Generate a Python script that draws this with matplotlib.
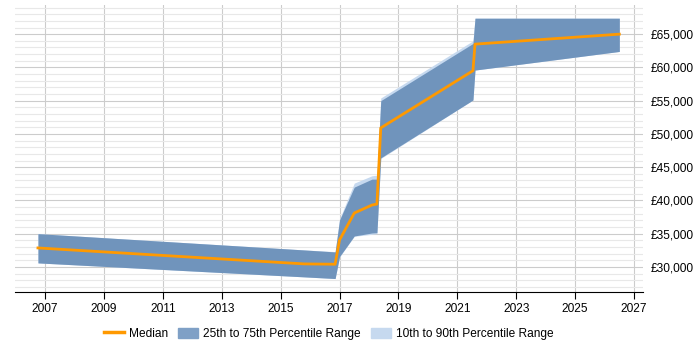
import matplotlib.pyplot as plt
from matplotlib.lines import Line2D
from matplotlib.patches import Patch
from matplotlib.ticker import FuncFormatter, MultipleLocator

plt.rcParams['font.family'] = ['Liberation Sans', 'DejaVu Sans']

# data
years = [2006.76, 2015.8, 2016.85, 2017.0, 2017.5, 2018.1, 2018.27, 2018.4, 2021.53, 2021.6, 2026.5]
median = [32850, 30450, 30400, 34050, 38100, 39300, 39450, 50900, 59500, 63500, 65000]
p25 = [30600, 28500, 28250, 31550, 34650, 35100, 35150, 46400, 55100, 59600, 62400]
p75 = [35000, 32550, 32250, 37050, 42000, 43200, 43200, 55000, 63600, 67400, 67400]
p10 = [30600, 28500, 28250, 31500, 34600, 34900, 35000, 46300, 55100, 59600, 62400]
p90 = [35000, 32550, 32300, 37200, 42600, 43700, 43800, 55400, 64000, 67400, 67400]
year_ticks = list(range(2007, 2028, 2))

MEDIAN_ORANGE = '#ff9900'
BAND_BLUE = '#7094bc'
LIGHT_BLUE = '#c6d9ef'


def main() -> None:
    fig = plt.figure(figsize=(7, 3.5), dpi=100)
    ax = fig.add_axes([0.0214, 0.166, 0.897, 0.82])

    ax.fill_between(years, p10, p90, color=LIGHT_BLUE, lw=0, zorder=2)
    ax.fill_between(years, p25, p75, color=BAND_BLUE, lw=0, zorder=3)
    ax.plot(years, median, color=MEDIAN_ORANGE, lw=2, zorder=4)

    ax.set_xlim(2005.98, 2027.3)
    ax.set_ylim(26240, 69400)

    ax.set_xticks(year_ticks)
    ax.yaxis.set_major_locator(MultipleLocator(5000))
    ax.yaxis.set_minor_locator(MultipleLocator(1000))
    ax.yaxis.set_major_formatter(FuncFormatter(lambda v, p: f'£{int(v):,}'))
    ax.yaxis.tick_right()

    ax.grid(which='major', color='#cccccc', lw=0.8, zorder=0)
    ax.grid(which='minor', axis='y', color='#e8e8e8', lw=0.8, zorder=0)
    ax.set_axisbelow(True)

    for side in ('left', 'top', 'right'):
        ax.spines[side].set_visible(False)
    ax.spines['bottom'].set_color('black')

    ax.tick_params(axis='x', length=5, color='black', labelsize=8.6, pad=3)
    ax.tick_params(axis='y', which='both', length=0, labelsize=8.6, pad=5.5)

    handles = [
        Line2D([], [], color=MEDIAN_ORANGE, lw=2.5),
        Patch(color='#7fa0c6'),
        Patch(color=LIGHT_BLUE),
    ]
    labels = ['Median', '25th to 75th Percentile Range', '10th to 90th Percentile Range']
    fig.legend(handles, labels, loc='center', bbox_to_anchor=(0.47, 0.046), ncol=3,
               frameon=False, fontsize=8.6, handlelength=1.67, handleheight=0.9,
               columnspacing=0.84, handletextpad=0.42)

    plt.savefig('out.png')


if __name__ == '__main__':
    main()
